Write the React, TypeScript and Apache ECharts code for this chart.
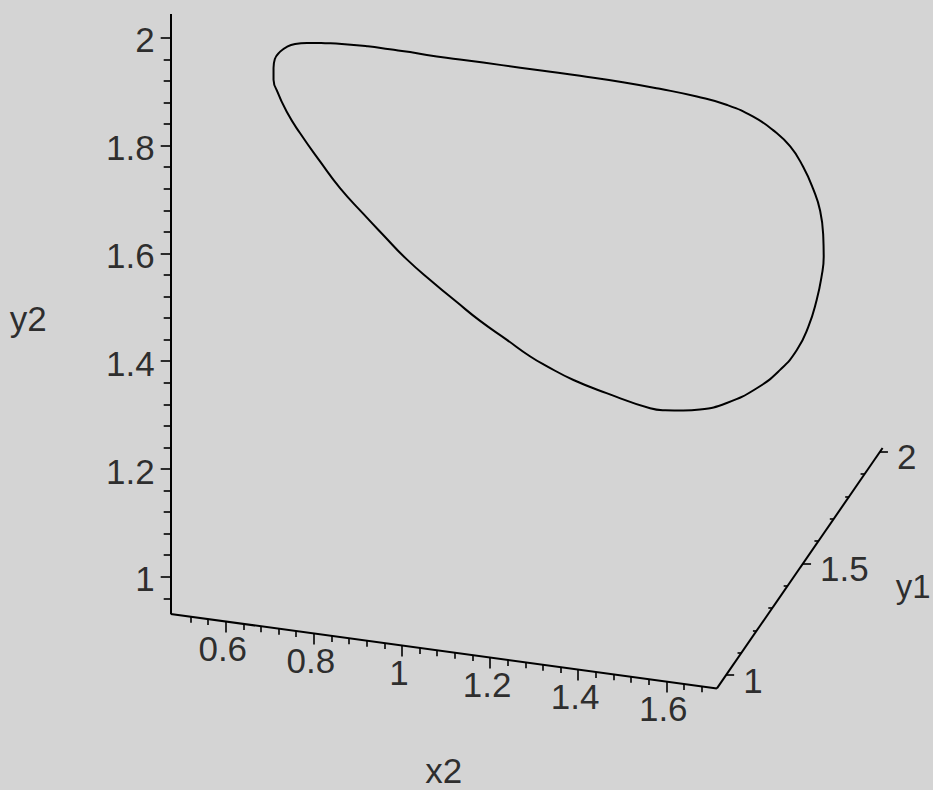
import React, { useEffect, useRef } from "react";
import * as echarts from "echarts";

const W = 933;
const H = 790;

// Extent of the 3D axis box
const x2Range = [0.475, 1.715];
const y1Range = [0.94, 2.017];
const y2Range = [0.931, 2.044];

// Labelled ticks
const x2Ticks = [0.6, 0.8, 1, 1.2, 1.4, 1.6];
const y1Ticks = [1, 1.5, 2];
const y2Ticks = [1, 1.2, 1.4, 1.6, 1.8, 2];

// Minor tick spacing and first/last minor tick on each axis
const x2Minor = { from: 0.52, to: 1.68, step: 0.04 };
const y1Minor = { from: 1.0, to: 2.0, step: 0.1 };
const y2Minor = { from: 0.96, to: 1.96, step: 0.04 };

// Closed orbit, drawn in the plane y1 = curveY1
const curveY1 = 1.6;
const curveX2 = [
  0.485, 0.478, 0.478, 0.481, 0.493, 0.509, 0.527, 0.554, 0.595, 0.633,
  0.692, 0.742, 0.788, 0.826, 0.901, 0.954, 1.038, 1.09, 1.174, 1.271,
  1.355, 1.439, 1.508, 1.567, 1.612, 1.651, 1.68, 1.703, 1.719, 1.726,
  1.727, 1.722, 1.711, 1.692, 1.666, 1.628, 1.575, 1.507, 1.446, 1.408,
  1.367, 1.333, 1.234, 1.159, 1.098, 1.06, 1.007, 0.947, 0.894, 0.841,
  0.78, 0.727, 0.682, 0.629, 0.584, 0.538, 0.508,
];
const curveY2 = [
  1.631, 1.649, 1.671, 1.688, 1.703, 1.714, 1.721, 1.726, 1.73, 1.733,
  1.735, 1.735, 1.735, 1.734, 1.734, 1.734, 1.734, 1.734, 1.734, 1.733,
  1.73, 1.725, 1.717, 1.702, 1.682, 1.656, 1.622, 1.583, 1.544, 1.497,
  1.46, 1.422, 1.378, 1.326, 1.28, 1.239, 1.199, 1.164, 1.145, 1.139,
  1.135, 1.135, 1.152, 1.168, 1.187, 1.201, 1.226, 1.254, 1.283, 1.313,
  1.35, 1.389, 1.423, 1.465, 1.509, 1.557, 1.593,
];

// Parallel projection of the box onto the plane of the page
const ORIGIN = [170.7, 614];
const DIR_X2 = [440.5, 60];
const DIR_Y1 = [153.8, -223.2];
const DIR_Y2 = [0, -539];

function project(x2: number, y1: number, y2: number): number[] {
  const a = x2 - x2Range[0];
  const b = y1 - y1Range[0];
  const c = y2 - y2Range[0];
  return [
    ORIGIN[0] + a * DIR_X2[0] + b * DIR_Y1[0] + c * DIR_Y2[0],
    ORIGIN[1] + a * DIR_X2[1] + b * DIR_Y1[1] + c * DIR_Y2[1],
  ];
}

function steps(m: { from: number; to: number; step: number }, skip: number[]) {
  const out: number[] = [];
  const n = Math.round((m.to - m.from) / m.step);
  for (let i = 0; i <= n; i++) {
    const v = +(m.from + i * m.step).toFixed(4);
    if (!skip.some((s) => Math.abs(s - v) < 1e-6)) out.push(v);
  }
  return out;
}

const FONT = "'Liberation Sans', Arial, Helvetica, sans-serif";
const INK = "#000000";

function seg(p: number[], dx: number, dy: number) {
  return { coords: [p, [p[0] + dx, p[1] + dy]] };
}

export default function App() {
  const ref = useRef<HTMLDivElement>(null);

  useEffect(() => {
    if (!ref.current) return;
    const chart = echarts.init(ref.current, undefined, { renderer: "svg" });

    const [x0, x1] = x2Range;
    const [u0, u1] = y1Range;
    const [z0, z1] = y2Range;

    const axisLines = [
      { coords: [project(x0, u0, z0), project(x0, u0, z1)] },
      { coords: [project(x0, u0, z0), project(x1, u0, z0)] },
      { coords: [project(x1, u0, z0), project(x1, u1, z0)] },
    ];

    const ticks: any[] = [];
    y2Ticks.forEach((v) => ticks.push(seg(project(x0, u0, v), -10, 0)));
    steps(y2Minor, y2Ticks).forEach((v) => ticks.push(seg(project(x0, u0, v), -7, 0)));
    x2Ticks.forEach((v) => ticks.push(seg(project(v, u0, z0), 0, 11)));
    steps(x2Minor, x2Ticks).forEach((v) => ticks.push(seg(project(v, u0, z0), 0, 6)));
    y1Ticks.forEach((v) => ticks.push(seg(project(x1, v, z0), 8, 0)));
    steps(y1Minor, y1Ticks).forEach((v) => ticks.push(seg(project(x1, v, z0), -4, 0)));

    const curve = curveX2.map((x, i) => project(x, curveY1, curveY2[i]));
    curve.push(curve[0]);

    const labelStyle = {
      show: true,
      fontFamily: FONT,
      fontSize: 35,
      lineHeight: 36,
      color: INK,
      formatter: (p: any) => String(p.value[2]),
    };

    const labelSeries = (
      name: string,
      data: any[],
      label: Record<string, unknown>
    ) => ({
      name,
      type: "scatter",
      symbolSize: 0,
      silent: true,
      data,
      label: { ...labelStyle, ...label },
    });

    chart.setOption({
      animation: false,
      backgroundColor: "#d4d4d4",
      grid: { left: 0, right: 0, top: 0, bottom: 0 },
      xAxis: { type: "value", min: 0, max: W, show: false },
      yAxis: { type: "value", min: 0, max: H, inverse: true, show: false },
      series: [
        {
          name: "axes",
          type: "lines",
          coordinateSystem: "cartesian2d",
          silent: true,
          lineStyle: { color: INK, width: 2, opacity: 1 },
          data: axisLines,
        },
        {
          name: "ticks",
          type: "lines",
          coordinateSystem: "cartesian2d",
          silent: true,
          lineStyle: { color: INK, width: 1.6, opacity: 1 },
          data: ticks,
        },
        {
          name: "orbit",
          type: "line",
          silent: true,
          showSymbol: false,
          smooth: 0.5,
          lineStyle: { color: INK, width: 2 },
          data: curve,
        },
        labelSeries(
          "y2 ticks",
          y2Ticks.map((v) => [...project(x0, u0, v), v]),
          { position: "left", distance: 16, offset: [0, 2] }
        ),
        labelSeries(
          "x2 ticks",
          x2Ticks.map((v) => [...project(v, u0, z0), v]),
          { position: "bottom", distance: 9, offset: [-3, 0] }
        ),
        labelSeries(
          "y1 ticks",
          y1Ticks.map((v) => [...project(x1, v, z0), v]),
          { position: "right", distance: 17, offset: [0, 5] }
        ),
        labelSeries(
          "titles",
          [
            [...project((x0 + x1) / 2, u0, z0), "x2", "bottom"],
            [...project(x0, u0, (z0 + z1) / 2), "y2", "left"],
            [...project(x1, (u0 + u1) / 2, z0), "y1", "right"],
          ].map((d) => ({
            value: d,
            label:
              d[3] === "bottom"
                ? { position: "bottom", distance: 101 }
                : d[3] === "left"
                ? { position: "left", distance: 124, offset: [0, 4] }
                : { position: "right", distance: 96, offset: [0, 18], fontSize: 33 },
          })),
          {}
        ),
      ],
    });

    return () => chart.dispose();
  }, []);

  return (
    <div
      ref={ref}
      style={{ position: "absolute", left: 0, top: 0, width: W, height: H }}
    />
  );
}
